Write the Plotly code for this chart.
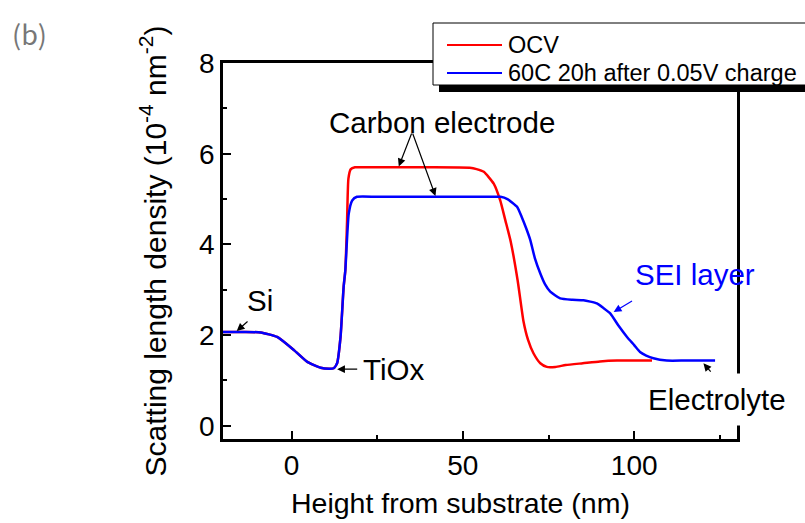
import plotly.graph_objects as go

# ---- data ----
series_names = ["OCV", "60C 20h after 0.05V charge"]

ocv_x = [-20, -14, -9, -4.2, 0.7, 4.6, 8.5, 11, 12.3, 13.3, 14.3, 15.2, 15.7, 16.2, 16.6, 17.3, 18.5,
         25, 40, 52, 54, 56.1, 59, 60.9, 62.4, 64, 66, 67.7, 69, 70.6, 72.6, 74.5, 77, 80, 85, 90,
         95, 100, 105.2]
ocv_y = [2.07, 2.07, 2.06, 1.96, 1.67, 1.41, 1.28, 1.26, 1.27, 1.38, 1.96, 3.06, 3.43, 4.5, 5.45, 5.66, 5.70,
         5.70, 5.70, 5.69, 5.66, 5.60, 5.34, 4.97, 4.53, 4.05, 3.2, 2.3, 1.9, 1.60, 1.38, 1.30, 1.30, 1.34, 1.38, 1.42,
         1.44, 1.44, 1.44]

sei_x = [-20, -14, -9, -4.2, 0.7, 4.6, 8.5, 11, 12.3, 13.3, 14.3, 15.2, 15.7, 16.7, 17.7, 19.1, 25, 40,
         55, 61, 63, 65.8, 67.2, 68.5, 69.7, 71, 72.6, 74, 75.5, 78.4, 82, 85.2, 89.1, 91, 93, 95.5,
         97.9, 100, 101.7, 103.5, 105.6, 109.5, 115, 123.6]
sei_y = [2.07, 2.07, 2.06, 1.96, 1.67, 1.41, 1.28, 1.26, 1.27, 1.38, 1.96, 3.06, 3.43, 4.68, 4.97, 5.05, 5.05, 5.05,
         5.05, 5.05, 5.0, 4.83, 4.6, 4.35, 4.09, 3.7, 3.36, 3.12, 2.96, 2.81, 2.78, 2.77, 2.70, 2.60, 2.48, 2.2,
         1.96, 1.78, 1.63, 1.55, 1.49, 1.44, 1.44, 1.44]

x_tickvals = [0, 50, 100]
y_tickvals = [0, 2, 4, 6, 8]

FONT = "Liberation Sans, Arial, sans-serif"

fig = go.Figure()
fig.add_trace(go.Scatter(x=ocv_x, y=ocv_y, mode="lines", name=series_names[0],
                         line=dict(color="#FF0000", width=2.5, shape="spline", smoothing=0.5),
                         showlegend=False))
fig.add_trace(go.Scatter(x=sei_x, y=sei_y, mode="lines", name=series_names[1],
                         line=dict(color="#0000FF", width=2.5, shape="spline", smoothing=0.5),
                         showlegend=False))

axis_common = dict(showgrid=False, zeroline=False, showline=True, linecolor="black", linewidth=2.5,
                   mirror=True, ticks="inside", ticklen=8, tickwidth=2, tickcolor="black",
                   tickfont=dict(family=FONT, size=28, color="black"))

fig.update_xaxes(range=[-20, 130], tickvals=x_tickvals,
                 minor=dict(ticks="inside", ticklen=4, tickwidth=2, tickcolor="black", dtick=25, tick0=0),
                 **axis_common)
fig.update_yaxes(range=[-0.29, 8], tickvals=y_tickvals,
                 minor=dict(ticks="inside", ticklen=4, tickwidth=2, tickcolor="black", dtick=1, tick0=0),
                 title=dict(text="Scatting length density (10<sup>-4</sup> nm<sup>-2</sup>)",
                            font=dict(family=FONT, size=30, color="black"), standoff=24),
                 **axis_common)

# --- pixel helpers for paper-positioned decorations ---
L, R, T, B = 223, 737, 63, 439
W, H = R - L, B - T
def px(x):
    return (x - L) / W
def py(y):
    return (B - y) / H

# --- manual legend (Origin style box with shadow) ---
shapes = [
    dict(type="rect", xref="paper", yref="paper", x0=px(439), x1=px(830), y0=py(30), y1=py(92),
         fillcolor="black", line=dict(width=0), layer="above"),
    dict(type="rect", xref="paper", yref="paper", x0=px(433), x1=px(825), y0=py(23), y1=py(85),
         fillcolor="white", line=dict(color="black", width=1), layer="above"),
    dict(type="line", xref="paper", yref="paper", x0=px(447), x1=px(502), y0=py(45), y1=py(45),
         line=dict(color="#FF0000", width=2), layer="above"),
    dict(type="line", xref="paper", yref="paper", x0=px(447), x1=px(502), y0=py(73), y1=py(73),
         line=dict(color="#0000FF", width=2), layer="above"),
]
fig.update_layout(shapes=shapes)

ann = []
ann.append(dict(xref="paper", yref="paper", x=px(506), y=py(45), text=series_names[0], showarrow=False,
                xanchor="left", yanchor="middle", font=dict(family=FONT, size=23.5, color="black")))
ann.append(dict(xref="paper", yref="paper", x=px(506), y=py(73), text=series_names[1], showarrow=False,
                xanchor="left", yanchor="middle", font=dict(family=FONT, size=23.5, color="black")))

# x-axis title (positioned as in the reference, slightly left of plot centre)
ann.append(dict(xref="paper", yref="paper", x=px(460), y=py(503), text="Height from substrate (nm)",
                showarrow=False, xanchor="center", yanchor="middle",
                font=dict(family=FONT, size=28.5, color="black")))

txt_font = dict(family=FONT, size=29.5, color="black")
# labels
ann.append(dict(x=44.0, y=6.68, text="Carbon electrode", showarrow=False, font=txt_font,
                xanchor="center", yanchor="middle"))
ann.append(dict(x=-9.3, y=2.76, text="Si", showarrow=False, font=txt_font, xanchor="center", yanchor="middle"))
ann.append(dict(x=20.2, y=1.25, text="TiOx", showarrow=False, font=txt_font, xanchor="left", yanchor="middle"))
ann.append(dict(x=99.6, y=3.33, text="SEI layer", showarrow=False,
                font=dict(family=FONT, size=29.5, color="#0000FF"), xanchor="left", yanchor="middle"))
ann.append(dict(x=124.3, y=0.59, text="Electrolyte", showarrow=False, font=txt_font,
                xanchor="center", yanchor="middle", bgcolor="white", borderpad=9))

# arrows
def arrow(tx, ty, sx, sy, color="black"):
    return dict(x=tx, y=ty, ax=sx, ay=sy, xref="x", yref="y", axref="x", ayref="y", text="",
                showarrow=True, arrowhead=2, arrowsize=1.3, arrowwidth=1.2, arrowcolor=color)

ann.append(arrow(31.3, 5.72, 35.2, 6.48))
ann.append(arrow(42.0, 5.07, 35.2, 6.48))
ann.append(arrow(-16.0, 2.09, -12.4, 2.33))
ann.append(arrow(13.3, 1.25, 19.6, 1.25))
ann.append(arrow(94.0, 2.51, 99.8, 2.77, color="#0000FF"))
ann.append(arrow(120.2, 1.38, 122.7, 1.16))

ann.append(dict(xref="paper", yref="paper", x=px(29), y=py(33), text="(b)", showarrow=False,
                font=dict(family="Noto Sans CJK SC, sans-serif", size=27, color="#777777"),
                xanchor="center", yanchor="middle"))

fig.update_layout(annotations=ann,
                  width=805, height=523,
                  margin=dict(l=L, r=805 - R, t=T, b=523 - B, autoexpand=False),
                  plot_bgcolor="white", paper_bgcolor="white",
                  showlegend=False)

fig.write_html("out.html", config={"displayModeBar": False},
               post_script="document.body.style.margin='0px';")
